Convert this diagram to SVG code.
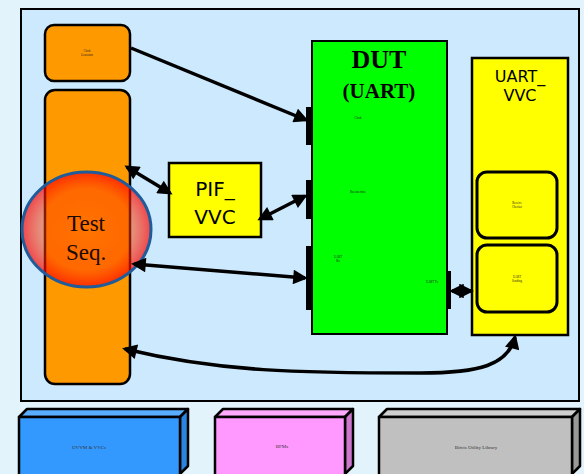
<svg xmlns="http://www.w3.org/2000/svg" width="584" height="474" viewBox="0 0 584 474">
<defs>
<style>
.orange{fill:#ff9900;stroke:#000;stroke-width:2.5}
.yel{fill:#ffff00;stroke:#000;stroke-width:2.5}
.inner{fill:#ffff00;stroke:#000;stroke-width:3}
.port{fill:#000}
.conn{fill:none;stroke:#000;stroke-width:3.5;marker-end:url(#ah)}
.bi{marker-start:url(#ah)}
.tiny{font-family:"Liberation Serif",serif;font-size:3px;fill:#222;text-anchor:middle}
.lbl{font-family:"Liberation Serif",serif;font-size:5px;fill:#333;text-anchor:middle}
.sans{font-family:"DejaVu Sans","Liberation Sans",sans-serif;text-anchor:middle;fill:#000}
.box3d{stroke:#000;stroke-width:2.5;stroke-linejoin:round}
</style>
<marker id="ah" viewBox="0 0 10 10" refX="8" refY="5" markerWidth="4.6" markerHeight="4.2" orient="auto-start-reverse" markerUnits="strokeWidth">
<path d="M0,0 L10,5 L0,10 Z" fill="#000"/>
</marker>
<radialGradient id="tsg" cx="0.5" cy="0.5" r="0.5">
<stop offset="0" stop-color="#ff6a00" stop-opacity="0.75"/>
<stop offset="0.7" stop-color="#ff3a00" stop-opacity="0.5"/>
<stop offset="1" stop-color="#ff0000" stop-opacity="0.7"/>
</radialGradient>
</defs>
<rect x="0" y="0" width="584" height="474" fill="#e3f3fb"/>
<g id="panel"><rect x="21" y="9" width="558" height="392" fill="#cce9fd" stroke="#000" stroke-width="2"/></g>

<g id="clock"><rect class="orange" x="45" y="25" width="85" height="56" rx="9"/>
<text class="tiny" x="87" y="52">Clock</text><text class="tiny" x="87" y="56">Generator</text></g>

<g id="testseq-box"><rect class="orange" x="45" y="90" width="85" height="294" rx="10"/></g>

<g id="pif"><rect class="yel" x="169" y="163" width="92" height="74"/>
<text class="sans" x="215" y="196" font-size="20">PIF_</text>
<text class="sans" x="215" y="224" font-size="20">VVC</text></g>

<g id="dut"><rect fill="#00ff00" stroke="#000" stroke-width="2" x="312" y="41" width="135" height="293"/>
<text x="379" y="68" font-family="Liberation Serif,serif" font-weight="bold" font-size="26" text-anchor="middle">DUT</text>
<text x="379" y="98" font-family="Liberation Serif,serif" font-weight="bold" font-size="21" text-anchor="middle">(UART)</text>
<text class="tiny" x="358" y="119">Clock</text>
<text class="tiny" x="358" y="193">Bus interface</text>
<text class="tiny" x="338" y="258">UART</text><text class="tiny" x="338" y="262">Rx</text>
<text class="tiny" x="432" y="283">UART Tx</text>
<rect class="port" x="306" y="107" width="6" height="38"/>
<rect class="port" x="306" y="180" width="6" height="39"/>
<rect class="port" x="306" y="246" width="6" height="64"/>
<rect class="port" x="446" y="271" width="5" height="38"/></g>

<g id="uartvvc"><rect class="yel" x="472" y="58" width="96" height="277" stroke-width="2.5"/>
<text class="sans" x="520" y="82" font-size="16">UART_</text>
<text class="sans" x="520" y="101" font-size="16">VVC</text>
<rect class="inner" x="477" y="172" width="80" height="66" rx="10"/>
<text class="tiny" x="517" y="204">Receive</text><text class="tiny" x="517" y="208">Checker</text>
<rect class="inner" x="477" y="245" width="80" height="67" rx="10"/>
<text class="tiny" x="517" y="278">UART</text><text class="tiny" x="517" y="282">Sending</text></g>

<g id="testseq"><ellipse cx="86.5" cy="229.5" rx="64.5" ry="57.5" fill="url(#tsg)" stroke="#1f5c99" stroke-width="3"/>
<text x="86" y="231" font-family="Liberation Serif,serif" font-size="23" text-anchor="middle" fill="#1a0a00">Test</text>
<text x="86" y="260" font-family="Liberation Serif,serif" font-size="23" text-anchor="middle" fill="#1a0a00">Seq.</text></g>

<g id="connectors">
<path class="conn" d="M131,48 L306,120"/>
<path class="conn bi" d="M127,167 L170,193"/>
<path class="conn bi" d="M260,219 L305,196"/>
<path class="conn bi" d="M134,264 L305,278"/>
<path class="conn bi" d="M452,291 L471,291"/>
<path class="conn bi" d="M125,349 C220,372 300,373 420,373 C480,373 508,365 515,337"/>
</g>

<g id="uvvm"><polygon class="box3d" points="19,417 27,409 188,409 180,417" fill="#5aaeff"/>
<polygon class="box3d" points="180,417 188,409 188,466 180,474" fill="#2a85e0"/>
<rect class="box3d" x="19" y="417" width="161" height="60" fill="#3399ff"/>
<text class="lbl" x="89" y="449" fill="#223">UVVM &amp; VVCs</text></g>

<g id="bfms"><polygon class="box3d" points="215,417 223,409 353,409 345,417" fill="#ffaaff"/>
<polygon class="box3d" points="345,417 353,409 353,466 345,474" fill="#cc77cc"/>
<rect class="box3d" x="215" y="417" width="130" height="60" fill="#ff99ff"/>
<text class="lbl" x="282" y="448">BFMs</text></g>

<g id="bitvis"><polygon class="box3d" points="379,417 387,409 580,409 572,417" fill="#cfcfcf"/>
<polygon class="box3d" points="572,417 580,409 580,466 572,474" fill="#999"/>
<rect class="box3d" x="379" y="417" width="193" height="60" fill="#c0c0c0"/>
<text class="lbl" x="476" y="449">Bitvis Utility Library</text></g>
</svg>
